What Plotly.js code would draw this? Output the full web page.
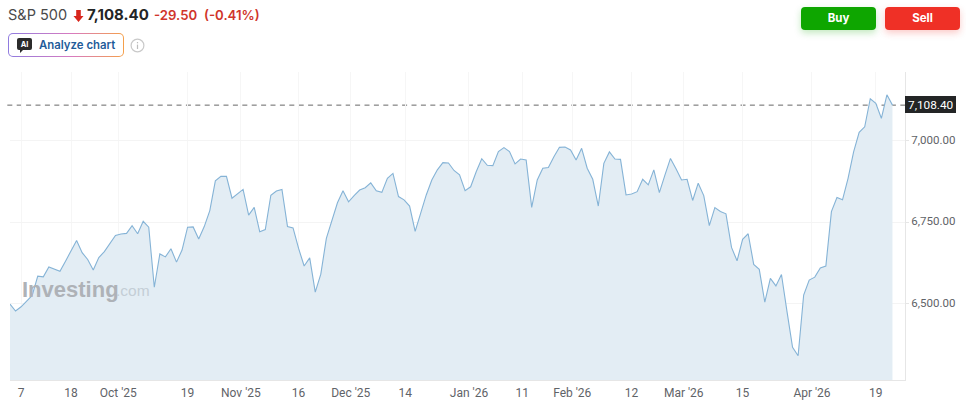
<!DOCTYPE html>
<html><head><meta charset="utf-8">
<script src="https://cdn.plot.ly/plotly-3.0.1.min.js"></script>
<style>
html,body{margin:0;padding:0;background:#fff;width:966px;height:406px;overflow:hidden;font-family:Inter,sans-serif}
#chart{position:absolute;left:0;top:0;width:966px;height:406px}
.h{position:absolute;white-space:nowrap;line-height:20px}
.btn{position:absolute;top:7px;width:75px;height:23px;border-radius:4px;color:#fff;font:700 11.5px/23px Inter,sans-serif;text-align:center}
#ai{position:absolute;left:8px;top:33px;width:116px;height:24px;border-radius:5px;box-sizing:border-box;border:1.5px solid transparent;background:linear-gradient(#fff,#fff) padding-box,linear-gradient(90deg,#8f7be0,#d87bc0 55%,#f5a04a) border-box}
</style></head><body>
<div id="chart"></div>
<div class="h" style="left:8px;top:5px;font-size:14.5px;color:#4a4a4a">S&amp;P 500</div>
<svg class="h" style="left:73px;top:10px" width="11" height="12" viewBox="0 0 11 12"><path d="M3.2 0h4.6v6h2.7L5.5 12 .5 6h2.7z" fill="#d8261c"/></svg>
<div class="h" style="left:87px;top:5px;font-size:15px;font-weight:700;color:#232526">7,108.40</div>
<div class="h" style="left:154px;top:5px;font-size:13.2px;font-weight:600;color:#d0352b">-29.50</div>
<div class="h" style="left:204px;top:5px;font-size:13.2px;font-weight:600;color:#d0352b">(-0.41%)</div>
<div id="ai"></div>
<svg class="h" style="left:17px;top:38px" width="15" height="15" viewBox="0 0 15 15"><path d="M2 0h11a2 2 0 0 1 2 2v8a2 2 0 0 1-2 2H6l-3 3v-3H2a2 2 0 0 1-2-2V2a2 2 0 0 1 2-2z" fill="#2b2b2b"/><text x="7.5" y="9" font-size="7.5" font-weight="700" fill="#fff" text-anchor="middle" font-family="Inter">AI</text></svg>
<div class="h" style="left:39px;top:35px;font-size:11.4px;font-weight:600;color:#1f5c99">Analyze chart</div>
<svg class="h" style="left:130px;top:38px" width="15" height="15" viewBox="0 0 15 15"><circle cx="7.5" cy="7.5" r="6.4" fill="none" stroke="#c9c9c9" stroke-width="1.2"/><rect x="6.9" y="6.6" width="1.2" height="4.4" fill="#bdbdbd"/><rect x="6.9" y="4" width="1.2" height="1.3" fill="#bdbdbd"/></svg>
<div class="btn" style="left:801px;background:#0ea600;box-shadow:0 3px 7px rgba(14,166,0,.25)">Buy</div>
<div class="btn" style="left:885px;background:#ef3026;box-shadow:0 3px 7px rgba(239,48,38,.25)">Sell</div>
<script>
const closeValues = [6498,6477,6490,6506,6525,6584,6582,6612,6605,6599,6630,6662,6693,6656,6635,6603,6641,6659,6686,6709,
6713,6715,6739,6714,6752,6734,6550,6652,6643,6668,6627,6664,6734,6735,6698,6736,6785,6876,6890,6890,
6823,6838,6850,6771,6795,6720,6727,6832,6845,6850,6736,6732,6669,6615,6640,6535,6590,6700,6756,6809,
6846,6812,6831,6848,6855,6870,6846,6841,6884,6899,6828,6818,6799,6721,6777,6833,6879,6910,6932,6931,
6908,6895,6846,6858,6904,6944,6924,6923,6966,6978,6966,6928,6943,6940,6795,6879,6915,6917,6950,6979,
6980,6971,6940,6976,6915,6881,6799,6930,6965,6943,6942,6833,6836,6843,6881,6864,6910,6840,6894,6945,
6913,6879,6881,6816,6869,6831,6739,6794,6782,6775,6672,6631,6697,6714,6620,6605,6504,6577,6554,6589,
6475,6366,6340,6526,6572,6581,6609,6615,6782,6825,6818,6884,6965,7025,7042,7128,7114,7068,7140,7108.4];
const sessionIndex = closeValues.map((_, i) => i);
const xTickPositions = [2,11,19.5,32,41.6,52,61.4,71.2,82.7,92.3,101.3,112,121.4,132,144.5,156];
const xTickLabels = ["7","18","Oct '25","19","Nov '25","16","Dec '25","14","Jan '26","11","Feb '26","12","Mar '26","15","Apr '26","19"];
const yTickValues = [6500,6750,7000];
const lastPrice = 7108.4;
const lastPriceLabel = "7,108.40";

Plotly.newPlot('chart',[{
  type:'scatter',mode:'lines',x:sessionIndex,y:closeValues,
  line:{color:'#85b3d6',width:1.1,shape:'linear'},
  fill:'tozeroy',fillcolor:'#e3edf4',hoverinfo:'skip'
}],{
  width:966,height:406,
  margin:{l:10,r:61,t:72,b:26,pad:0},
  paper_bgcolor:'#fff',plot_bgcolor:'#fff',showlegend:false,
  font:{family:'Roboto, sans-serif',size:12,color:'#5f6368'},
  xaxis:{range:[0,161.26],tickmode:'array',tickvals:xTickPositions,ticktext:xTickLabels,
    showgrid:true,gridcolor:'#f6f6f6',gridwidth:1,zeroline:false,showline:true,linecolor:'#e6e6e6',linewidth:1,
    ticks:'',ticklabelstandoff:2,tickangle:0,tickfont:{size:12,color:'#5f6368'},automargin:false,fixedrange:true},
  yaxis:{range:[6265.5,7210],side:'right',tickmode:'array',tickvals:yTickValues,tickformat:',.2f',
    showgrid:true,gridcolor:'#f4f4f4',gridwidth:1,zeroline:false,showline:true,linecolor:'#e6e6e6',linewidth:1,
    ticks:'outside',ticklen:3,tickcolor:'#e6e6e6',ticklabelshift:-1,tickfont:{size:11.5,color:'#5f6368'},automargin:false,fixedrange:true},
  shapes:[
    {type:'line',layer:'below',xref:'paper',yref:'y',x0:-0.003,x1:1,y0:lastPrice,y1:lastPrice,line:{color:'#666',width:1,dash:'5px,4.4px'}},
    {type:'rect',xref:'paper',yref:'paper',x0:1,x1:1+51/895,y0:(380-113)/308,y1:(380-96)/308,fillcolor:'#232526',line:{width:0}}
  ],
  annotations:[
    {xref:'paper',yref:'y',x:1+25.5/895,y:lastPrice,text:lastPriceLabel,showarrow:false,xanchor:'center',yanchor:'middle',
     font:{family:'Roboto, sans-serif',size:11.8,color:'#fff'}},
    {xref:'paper',yref:'paper',x:10/895,y:(380-289)/308,text:'<b>Investing</b>',showarrow:false,xanchor:'left',yanchor:'middle',
     font:{family:'Liberation Sans, sans-serif',size:22,color:'#aeb2b7'}},
    {xref:'paper',yref:'paper',x:104/895,y:(380-290)/308,text:'.com',showarrow:false,xanchor:'left',yanchor:'middle',
     font:{family:'Liberation Sans, sans-serif',size:15.5,color:'#c4ced6'}}
  ]
},{staticPlot:true,displayModeBar:false});
</script>
</body></html>
